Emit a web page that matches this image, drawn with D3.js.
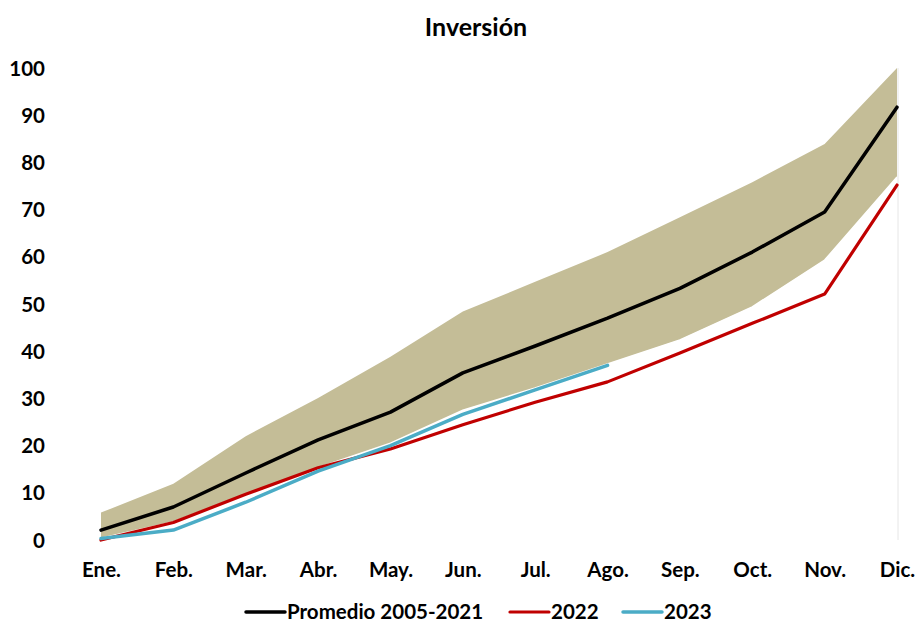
<!DOCTYPE html>
<html>
<head>
<meta charset="utf-8">
<script src="https://cdn.jsdelivr.net/npm/d3@7"></script>
<style>
  body { margin: 0; background: #fff; }
  text { font-family: Lato, "Open Sans", sans-serif; font-weight: bold; fill: #000; }
</style>
</head>
<body>
<div id="chart"></div>
<script>
// data
var months = ["Ene.", "Feb.", "Mar.", "Abr.", "May.", "Jun.", "Jul.", "Ago.", "Sep.", "Oct.", "Nov.", "Dic."];
var promedio = [2.1, 7.0, 14.2, 21.2, 27.1, 35.4, 41.1, 47.0, 53.3, 61.0, 69.5, 91.7];
var bandHigh = [5.8, 11.9, 22.0, 30.1, 38.8, 48.4, 54.7, 61.0, 68.4, 75.8, 83.9, 100];
var bandLow = [0.4, 3.8, 9.7, 15.3, 20.5, 27.5, 32.2, 37.3, 42.4, 49.4, 59.3, 76.9];
var serie2022 = [0, 3.7, 9.7, 15.3, 19.3, 24.4, 29.2, 33.5, 39.6, 45.9, 52.1, 75.2];
var serie2023 = [0.3, 2.1, 8.0, 14.6, 20.0, 26.6, 31.8, 37.0];
var yTicks = [0, 10, 20, 30, 40, 50, 60, 70, 80, 90, 100];

var svgWidth = 917;
var svgHeight = 622;

var svg = d3.select("#chart")
  .append("svg")
  .attr("width", svgWidth)
  .attr("height", svgHeight);

var x = d3.scalePoint()
  .domain(months)
  .range([101, 897]);

var y = d3.scaleLinear()
  .domain([0, 100])
  .range([540, 68]);

// title
svg.append("text")
  .attr("x", 476)
  .attr("y", 36)
  .attr("text-anchor", "middle")
  .attr("font-size", 25)
  .text("Inversión");

// band between min and max
var band = d3.area()
  .x((d, i) => x(months[i]))
  .y0((d, i) => y(bandLow[i]))
  .y1(d => y(d));

svg.append("path")
  .datum(bandHigh)
  .attr("d", band)
  .attr("fill", "#C4BD97");

// white edge under the band
svg.append("path")
  .datum(bandLow)
  .attr("d", d3.line().x((d, i) => x(months[i])).y(d => y(d)))
  .attr("fill", "none")
  .attr("stroke", "#fff")
  .attr("stroke-width", 1.5);

// faint right border
svg.append("line")
  .attr("x1", 898).attr("x2", 898)
  .attr("y1", y(100)).attr("y2", y(0))
  .attr("stroke", "#e6e6e6")
  .attr("stroke-width", 1);

// axes
var leftAxis = d3.axisLeft(y).tickValues(yTicks).tickSize(0).tickPadding(0);
var yAxis = svg.append("g")
  .attr("transform", "translate(45,0)")
  .call(leftAxis);
yAxis.select(".domain").remove();
yAxis.selectAll("text")
  .attr("font-size", 20.5)
  .attr("dy", "0.35em");

var bottomAxis = d3.axisBottom(x).tickSize(0).tickPadding(0);
var xAxis = svg.append("g")
  .attr("transform", "translate(0,563)")
  .call(bottomAxis);
xAxis.select(".domain").remove();
xAxis.selectAll("text")
  .attr("font-size", 20.5)
  .attr("dy", "0.7em");

// lines
var line = d3.line()
  .x((d, i) => x(months[i]))
  .y(d => y(d));

var series = [
  { name: "Promedio 2005-2021", values: promedio, color: "#000000", width: 3.5 },
  { name: "2022", values: serie2022, color: "#C00000", width: 3.2 },
  { name: "2023", values: serie2023, color: "#4BACC6", width: 3.5 }
];

svg.selectAll(".serie")
  .data(series)
  .enter()
  .append("path")
  .attr("class", "serie")
  .attr("d", d => line(d.values))
  .attr("fill", "none")
  .attr("stroke", d => d.color)
  .attr("stroke-width", d => d.width)
  .attr("stroke-linejoin", "round")
  .attr("stroke-linecap", "round");

// legend
var legendPos = [246, 510, 623];
var legend = svg.selectAll(".legend")
  .data(series)
  .enter()
  .append("g")
  .attr("class", "legend")
  .attr("transform", (d, i) => `translate(${legendPos[i]}, 612)`);

legend.append("line")
  .attr("x1", 0).attr("x2", 39)
  .attr("y1", 0).attr("y2", 0)
  .attr("stroke", d => d.color)
  .attr("stroke-width", d => d.width)
  .attr("stroke-linecap", "round");

legend.append("text")
  .attr("x", 41)
  .attr("y", 0)
  .attr("dy", "0.35em")
  .attr("font-size", 20.5)
  .text(d => d.name);
</script>
</body>
</html>
